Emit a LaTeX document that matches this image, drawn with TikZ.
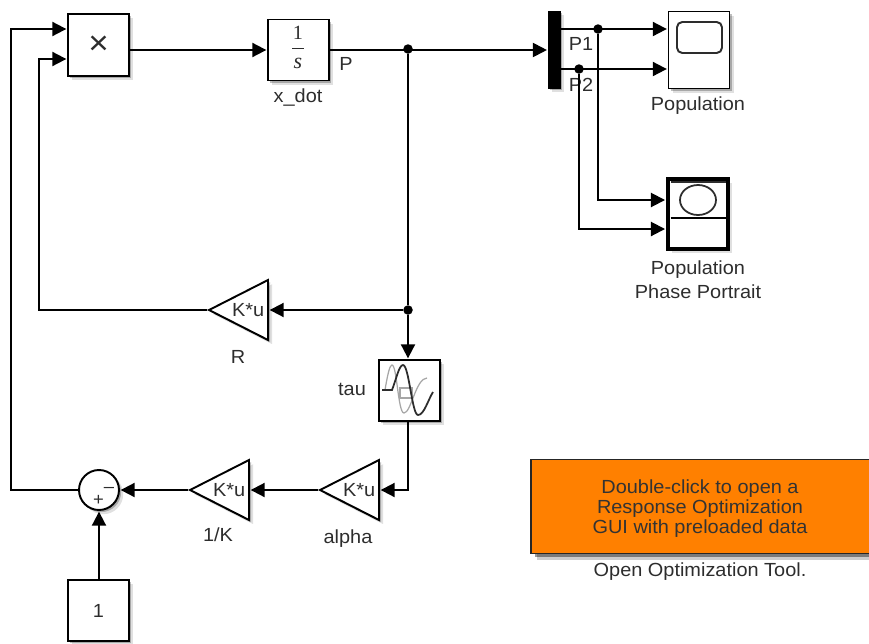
\documentclass[tikz,border=0pt]{standalone}
\usepackage{fontspec}
\setmainfont[FakeStretch=1.05]{Liberation Sans}
\newfontfamily\blkserif{Liberation Serif}
\usetikzlibrary{arrows.meta,positioning,shapes.geometric,shadows}
\definecolor{slorange}{RGB}{255,128,0}
\definecolor{sltext}{RGB}{45,45,45}
\begin{document}
\begin{tikzpicture}[
  x=0.02cm, y=-0.02cm,
  font=\fontsize{10.8}{12}\selectfont,
  shd/.style={drop shadow={shadow xshift=2.4pt, shadow yshift=-2.4pt, opacity=0.12, fill=black},
              drop shadow={shadow xshift=1.2pt, shadow yshift=-1.2pt, opacity=0.25, fill=black}},
  blk/.style={draw, line width=1.1pt, fill=white, minimum width=1.22cm, minimum height=1.22cm,
               inner sep=0pt, align=center, text=sltext, shd},
  gain/.style={draw, line width=1.1pt, fill=white, isosceles triangle, isosceles triangle stretches,
               shape border rotate=180, minimum width=1.2cm, minimum height=1.18cm, inner sep=0pt,
               anchor=apex, shd},
  lbl/.style={text=sltext, inner sep=0pt, align=center},
  dot/.style={circle, fill=black, inner sep=0pt, minimum size=0.19cm},
  wire/.style={line width=1.1pt},
  arrow/.style={wire, -{Triangle[length=8pt, width=8pt]}, shorten >=0.4pt}]

\useasboundingbox (0,0) rectangle (869,643);

% forward path
\node[blk, minimum height=1.24cm] (prod) at (98.5,45) {\fontsize{19}{19}\selectfont ×};
\node[blk] (integ) at (298.5,50) {};
\node[lbl, font=\fontsize{11.5}{12}\blkserif] (one) at (298,33) {1};
\node[lbl, font=\fontsize{12.5}{12}\blkserif\itshape] (ess) at (298,63) {s};
\draw[line width=0.9pt, draw=sltext] (292,48.5) -- (304,48.5);
\node[draw, fill=black, minimum width=0.24cm, minimum height=1.54cm, inner sep=0pt, shd] (mux) at (554,49.5) {};
\node[dot] (jtop) at (408,49) {};
\node[dot] (jr) at (408,310) {};
\node[dot] (jp1) at (598,29) {};
\node[dot] (jp2) at (579,69) {};

% scopes
\node[blk, minimum height=1.54cm] (scope) at (699,50) {};
\draw[line width=1.1pt, rounded corners=3pt, draw=sltext] (677,22) rectangle (722,53);
\node[blk, minimum width=1.2cm, minimum height=1.4cm, line width=2.6pt] (xy) at (698,214) {};
\draw[line width=0.9pt, draw=sltext] (670.5,182) -- (725.5,182);
\draw[line width=1.1pt] (670.5,218) -- (725.5,218);
\draw[line width=1pt, draw=sltext] (698,200) ellipse (18 and 15);

% feedback blocks
\node[gain] (gainr) at (206.5,310) {};
\node[lbl, left=2.5pt of gainr.lower side] (textr) {K*u};
\node[blk] (tau) at (409.5,390.5) {};
\draw[line width=0.7pt, draw=black!35] (383,390) -- (385,390) .. controls (388,372) and (390,365) .. (392,365)
  .. controls (397,365) and (398,413) .. (404,413) .. controls (411,413) and (416,378) .. (427,378);
\draw[line width=0.6pt, draw=black!35] (400,388) rectangle (412,398);
\draw[line width=1pt, draw=sltext] (382,390) -- (392,390) .. controls (396,380) and (399,365) .. (403,365)
  .. controls (409,365) and (412,415) .. (418,415) .. controls (424,415) and (428,400) .. (433,392);
\node[gain] (alpha) at (317.5,490) {};
\node[lbl, left=2.5pt of alpha.lower side] (textalpha) {K*u};
\node[gain] (invk) at (187.5,490) {};
\node[lbl, left=2.5pt of invk.lower side] (textk) {K*u};
\node[circle, draw, line width=1.1pt, fill=white, minimum size=0.8cm, inner sep=0pt, shd] (sum) at (99,490) {};
\node[lbl] (plus) at (98.5,500) {\fontsize{10}{10}\selectfont +};
\node[lbl] (minus) at (109,489.5) {\fontsize{10}{10}\selectfont --};
\node[blk] (const) at (98.5,610.5) {1};

% annotation
\node[draw=black!85, line width=1.1pt, fill=slorange, minimum width=6.8cm, minimum height=1.88cm, inner sep=0pt,
  drop shadow={shadow xshift=3.6pt, shadow yshift=-3.6pt, opacity=0.2, fill=black},
  drop shadow={shadow xshift=2pt, shadow yshift=-2pt, opacity=0.4, fill=black}] (opt) at (701,506.5) {};
\node[lbl, text=black!80, font=\fontsize{10.8}{11.4}\selectfont] (opttext) at (700,508.5)
  {Double-click to open a\\Response Optimization\\GUI with preloaded data};

% labels
\node[lbl] (lblp) at (346,64) {P};
\node[lbl] (lblx) at (298,98) {x\_dot};
\node[lbl] (lblp1) at (581,44) {P1};
\node[lbl] (lblp2) at (581,85) {P2};
\node[lbl] (lblpop) at (698,106) {Population};
\node[lbl] (lblxy) at (698,279.5) {Population\\[1.5pt]Phase Portrait};
\node[lbl] (lblr) at (238,357) {R};
\node[lbl] (lbltau) at (352,389) {tau};
\node[lbl] (lblalpha) at (348,538.5) {alpha};
\node[lbl] (lblk) at (218,535) {1/K};
\node[lbl] (lblopt) at (700,572) {Open Optimization Tool.};

% connectors
\coordinate (in1) at (prod.west |- 0,29);
\coordinate (in2) at (prod.west |- 0,59);
\coordinate (c1) at (11,29);
\coordinate (c2) at (39,59);
\draw[arrow] (prod.east |- integ.west) -- (integ.west);
\draw[arrow] (integ.east) -- (mux.west |- integ.east);
\draw[wire] (jtop) -- (jr);
\draw[arrow] (jr) -- (gainr.lower side);
\draw[arrow] (jr) -- (tau.north -| jr);
\draw[arrow] (tau.south -| jr) |- (alpha.lower side);
\draw[arrow] (alpha.apex) -- (invk.lower side);
\draw[arrow] (invk.apex) -- (sum.east);
\draw[arrow] (const.north -| sum) -- (sum.south);
\draw[arrow] (sum.west) -| (c1) -- (in1);
\draw[arrow] (gainr.apex) -| (c2) -- (in2);
\draw[arrow] (mux.east |- jp1) -- (scope.west |- jp1);
\draw[arrow] (mux.east |- jp2) -- (scope.west |- jp2);
\draw[arrow] (jp1) |- (xy.west |- 0,200);
\draw[arrow] (jp2) |- (xy.west |- 0,229);
\end{tikzpicture}
\end{document}
